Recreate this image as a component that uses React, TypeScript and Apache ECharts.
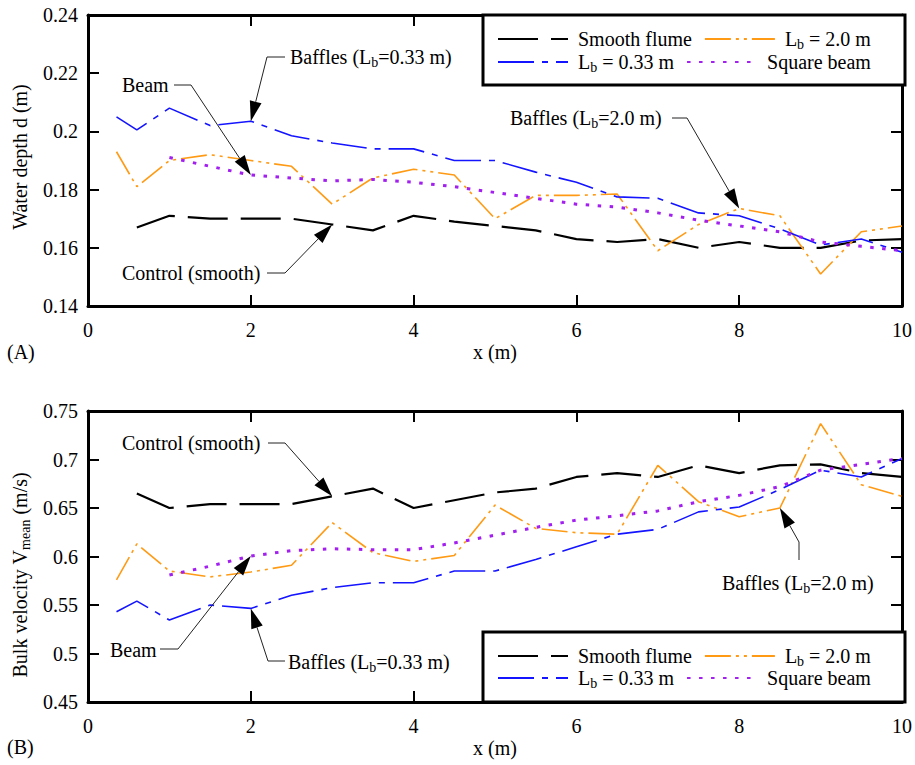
import React, { useEffect, useRef } from 'react';
import * as echarts from 'echarts';

const F = '"Liberation Serif", "Times New Roman", serif';

// x positions (m)
const xAll = [0.35, 0.6, 1.0, 1.5, 2.0, 2.5, 3.0, 3.5, 4.0, 4.5, 5.0, 5.5, 6.0, 6.5, 7.0, 7.5, 8.0, 8.5, 9.0, 9.5, 10.0];
const xSmooth = xAll.slice(1);
const xBeam = xAll.slice(2);

// (A) water depth d (m)
const depthSmooth = [0.167, 0.171, 0.170, 0.170, 0.170, 0.168, 0.166, 0.171, 0.169, 0.1675, 0.166, 0.163, 0.162, 0.163, 0.160, 0.162, 0.160, 0.160, 0.1625, 0.163];
const depthL20 = [0.193, 0.181, 0.190, 0.192, 0.190, 0.188, 0.175, 0.184, 0.187, 0.185, 0.170, 0.178, 0.178, 0.1785, 0.159, 0.168, 0.1735, 0.171, 0.151, 0.1655, 0.1675];
const depthL033 = [0.205, 0.2005, 0.208, 0.202, 0.2035, 0.1985, 0.196, 0.194, 0.194, 0.190, 0.190, 0.186, 0.1825, 0.1775, 0.177, 0.172, 0.171, 0.1665, 0.161, 0.163, 0.1585];
const depthBeam = [0.191, 0.188, 0.185, 0.184, 0.183, 0.1835, 0.1825, 0.181, 0.179, 0.177, 0.175, 0.174, 0.172, 0.1695, 0.1675, 0.1655, 0.162, 0.1605, 0.159];

// (B) bulk velocity Vmean (m/s)
const velSmooth = [0.665, 0.650, 0.654, 0.654, 0.654, 0.662, 0.670, 0.650, 0.658, 0.666, 0.670, 0.682, 0.686, 0.682, 0.694, 0.686, 0.694, 0.695, 0.686, 0.682];
const velL20 = [0.576, 0.613, 0.585, 0.579, 0.584, 0.591, 0.635, 0.604, 0.595, 0.601, 0.653, 0.629, 0.6245, 0.623, 0.694, 0.6565, 0.641, 0.650, 0.737, 0.674, 0.662];
const velL033 = [0.543, 0.554, 0.5345, 0.550, 0.5465, 0.560, 0.568, 0.573, 0.573, 0.585, 0.585, 0.597, 0.610, 0.623, 0.628, 0.646, 0.651, 0.669, 0.689, 0.682, 0.701];
const velBeam = [0.581, 0.590, 0.6005, 0.606, 0.608, 0.607, 0.607, 0.614, 0.622, 0.630, 0.6375, 0.642, 0.647, 0.6565, 0.663, 0.672, 0.689, 0.695, 0.701];

const names = ['Smooth flume', 'Lb = 2.0 m', 'Lb = 0.33 m', 'Square beam'];
const xTicks = { min: 0, max: 10, interval: 2 };
const depthTicks = { min: 0.14, max: 0.24, interval: 0.02 };
const velTicks = { min: 0.45, max: 0.75, interval: 0.05 };

const styles = [
  { color: '#000000', width: 2.2, type: [40, 13] },
  { color: '#ff9a14', width: 1.6, type: [26, 5, 3, 5, 3, 5] },
  { color: '#1414ff', width: 1.6, type: [36, 8, 6, 8] },
  { color: '#a21ff0', width: 3, type: [3.5, 8.5] },
];

const rich = {
  n: { fontSize: 20, fontFamily: F, color: '#000', lineHeight: 24 },
  s: { fontSize: 14, fontFamily: F, color: '#000', lineHeight: 14, verticalAlign: 'bottom' },
};
const richG = {
  n: { fontSize: 20, fontFamily: F, fill: '#000', lineHeight: 24 },
  s: { fontSize: 14, fontFamily: F, fill: '#000', lineHeight: 14, verticalAlign: 'bottom' },
};
const fmt = (t: string) => t.split(/_(\w+)/).map((p, i) => (i % 2 ? `{s|${p}}` : p ? `{n|${p}}` : '')).join('');
const legendFmt = (name: string) => (name.startsWith('Lb') ? fmt('L_b' + name.slice(2)) : fmt(name));

const pairs = (xs: number[], ys: number[]) => xs.map((x, i) => [x, ys[i]]);

export default function App() {
  const ref = useRef<HTMLDivElement>(null);
  useEffect(() => {
    const chart = echarts.init(ref.current!, null, { renderer: 'svg' });
    const grids = [
      { left: 88, top: 15, width: 817, height: 291 },
      { left: 88, top: 411, width: 817, height: 291 },
    ];
    const axisLine = { show: true, onZero: false, lineStyle: { color: '#000', width: 3 } };
    const tick = { show: true, inside: true, length: 11, lineStyle: { color: '#000', width: 2 } };
    const lbl = { color: '#000', fontFamily: F, fontSize: 20 };
    const xAxes: any[] = [];
    const yAxes: any[] = [];
    [depthTicks, velTicks].forEach((yt, g) => {
      xAxes.push({ type: 'value', gridIndex: g, position: 'bottom', ...xTicks, axisLine, axisTick: tick, splitLine: { show: false },
        axisLabel: { ...lbl, margin: 14 }, name: 'x (m)', nameLocation: 'middle', nameGap: 36, nameTextStyle: { ...lbl } });
      xAxes.push({ type: 'value', gridIndex: g, position: 'top', ...xTicks, axisLine, axisTick: tick, splitLine: { show: false }, axisLabel: { show: false } });
      yAxes.push({ type: 'value', gridIndex: g, position: 'left', ...yt, axisLine, axisTick: tick, splitLine: { show: false }, axisLabel: { ...lbl, margin: 10 } });
      yAxes.push({ type: 'value', gridIndex: g, position: 'right', ...yt, axisLine, axisTick: tick, splitLine: { show: false }, axisLabel: { show: false } });
    });
    const dataSets = [
      [pairs(xSmooth, depthSmooth), pairs(xAll, depthL20), pairs(xAll, depthL033), pairs(xBeam, depthBeam)],
      [pairs(xSmooth, velSmooth), pairs(xAll, velL20), pairs(xAll, velL033), pairs(xBeam, velBeam)],
    ];
    const series: any[] = [];
    dataSets.forEach((set, g) => {
      set.forEach((d, i) => {
        series.push({
          name: names[i], type: 'line', xAxisIndex: g * 2, yAxisIndex: g * 2, data: d,
          symbol: 'none', showSymbol: false, lineStyle: styles[i], itemStyle: { color: styles[i].color }, z: 3,
        });
      });
    });
    const legendRows = [[29, 0], [52, 2], [646, 0], [668, 2]].map(([top, k]) => ({
      left: 497, top, padding: 0, itemWidth: 70, itemHeight: 14, itemGap: 12, selectedMode: false, z: 20,
      data: [names[k === 0 ? 0 : 2], names[k === 0 ? 1 : 3]],
      formatter: legendFmt,
      itemStyle: { opacity: 0, borderWidth: 0 },
      textStyle: { width: 115, padding: [0, 0, 0, 5], rich },
    }));

    chart.setOption({
      animation: false,
      backgroundColor: '#fff',
      grid: grids,
      xAxis: xAxes,
      yAxis: yAxes,
      legend: legendRows,
      series,
    });

    const at = (si: number, xs: number[], ys: number[], x: number) => chart.convertToPixel({ seriesIndex: si }, [x, ys[xs.indexOf(x)]]) as number[];
    const arrow = (path: number[][], tip: number[]) => {
      const prev = path[path.length - 1];
      const dx = tip[0] - prev[0], dy = tip[1] - prev[1];
      const len = Math.hypot(dx, dy);
      const ux = dx / len, uy = dy / len, L = 20, W = 6;
      const bx = tip[0] - ux * L, by = tip[1] - uy * L;
      return [
        { type: 'polyline', z: 30, shape: { points: [...path, [bx, by]] }, style: { stroke: '#222', lineWidth: 1, fill: null } },
        { type: 'polygon', z: 30, shape: { points: [tip, [bx - uy * W, by + ux * W], [bx + uy * W, by - ux * W]] }, style: { fill: '#000' } },
      ];
    };
    const label = (t: string, x: number, y: number) => ({
      type: 'text', z: 30, x, y, style: { text: fmt(t), rich: richG, fontSize: 20, fontFamily: F, fill: '#000', align: 'left', verticalAlign: 'middle' },
    });
    const ann = (t: string, lx: number, ly: number, path: number[][], tip: number[]) => [label(t, lx, ly), ...arrow(path, tip)];

    const graphic: any[] = [
      { type: 'rect', z: 15, shape: { x: 483, y: 15, width: 422, height: 70 }, style: { fill: '#fff', stroke: '#000', lineWidth: 3 } },
      { type: 'rect', z: 15, shape: { x: 483, y: 632, width: 422, height: 70 }, style: { fill: '#fff', stroke: '#000', lineWidth: 3 } },
      { type: 'text', z: 30, x: 20, y: 157, rotation: Math.PI / 2, style: { text: fmt('Water depth d (m)'), rich: richG, fontSize: 20, fontFamily: F, fill: '#000', align: 'center', verticalAlign: 'middle' } },
      { type: 'text', z: 30, x: 20, y: 575, rotation: Math.PI / 2, style: { text: fmt('Bulk velocity V_mean (m/s)'), rich: richG, fontSize: 20, fontFamily: F, fill: '#000', align: 'center', verticalAlign: 'middle' } },
      { type: 'text', z: 30, x: 7, y: 352, style: { text: '(A)', fontSize: 20, fontFamily: F, fill: '#000', verticalAlign: 'middle' } },
      { type: 'text', z: 30, x: 7, y: 747, style: { text: '(B)', fontSize: 20, fontFamily: F, fill: '#000', verticalAlign: 'middle' } },
      ...ann('Baffles (L_b=0.33 m)', 290, 57, [[285, 57], [267, 57]], at(2, xAll, depthL033, 2.0)),
      ...ann('Beam', 122, 85, [[174, 85], [191, 85]], at(3, xBeam, depthBeam, 2.0)),
      ...ann('Control (smooth)', 122, 273, [[267, 273], [285, 273]], at(0, xSmooth, depthSmooth, 3.0)),
      ...ann('Baffles (L_b=2.0 m)', 510, 118, [[672, 118], [687, 118]], at(1, xAll, depthL20, 8.0)),
      ...ann('Control (smooth)', 122, 443, [[268, 443], [285, 443]], at(4, xSmooth, velSmooth, 3.0)),
      ...ann('Beam', 110, 650, [[160, 649], [178, 649]], at(7, xBeam, velBeam, 2.0)),
      ...ann('Baffles (L_b=0.33 m)', 288, 662, [[285, 661], [268, 661]], at(6, xAll, velL033, 2.0)),
      ...ann('Baffles (L_b=2.0 m)', 722, 583, [[799, 560], [799, 542]], at(5, xAll, velL20, 8.5)),
    ];
    chart.setOption({ graphic });
    return () => chart.dispose();
  }, []);
  return <div ref={ref} style={{ position: 'absolute', left: 0, top: 0, width: 915, height: 765 }} />;
}
